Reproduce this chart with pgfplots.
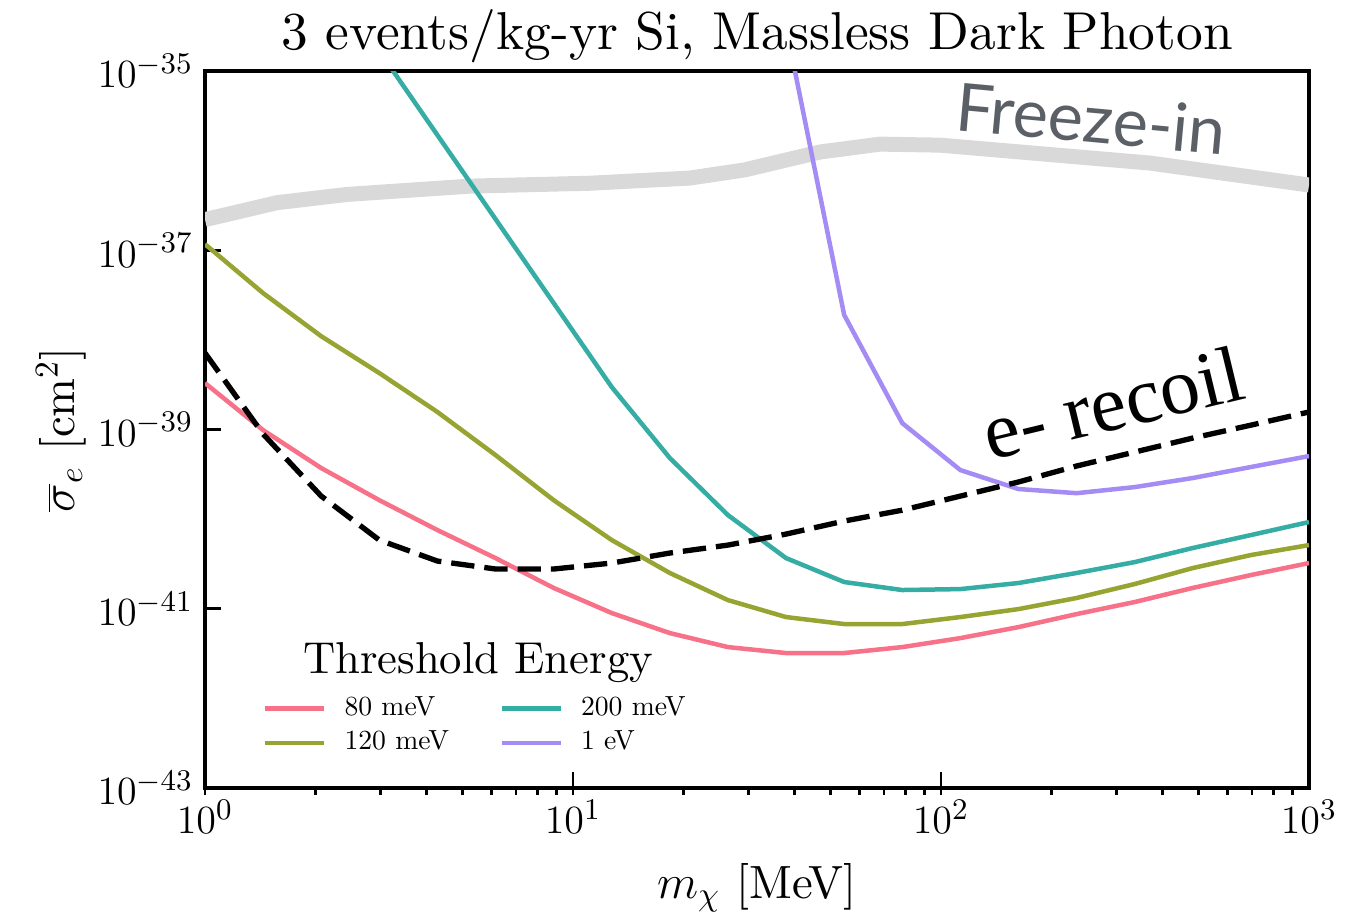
\documentclass[border=0pt]{standalone}
\usepackage{pgfplots}
\pgfplotsset{compat=1.18}
\usepackage{fontspec}
\setmainfont{lmroman10-regular}[Extension=.otf, BoldFont=lmroman10-bold, ItalicFont=lmroman10-italic]
\newfontfamily\timesfont{Liberation Serif}
\newfontfamily\freezefont{Lato}
\definecolor{cpink}{HTML}{F77189}
\definecolor{colive}{HTML}{97A431}
\definecolor{cteal}{HTML}{36ADA4}
\definecolor{cpurple}{HTML}{A48CF4}
\definecolor{cband}{HTML}{D9D9D9}
\definecolor{cfreeze}{HTML}{5A6066}
\begin{document}
\begin{tikzpicture}
\begin{axis}[
  scale only axis, width=331.2pt, height=215.1pt,
  xmode=log, ymode=log,
  xmin=1, xmax=1000, ymin=1e-43, ymax=1e-35,
  xtick={1,10,100,1000},
  ytick={1e-43,1e-41,1e-39,1e-37,1e-35},
  yminorticks=false,
  xtick pos=left, ytick pos=left,
  tick align=inside,
  major tick length=4.8pt,
  minor tick length=2.1pt,
  minor x tick style={yshift=-2.1pt},
  tick style={black, line width=0.8pt},
  axis line style={line width=1pt},
  tick label style={font=\fontsize{12.5}{14}\selectfont},
  xlabel={$m_\chi$ [MeV]},
  xlabel style={font=\fontsize{14}{16}\selectfont, at={(axis description cs:0.5,0)}, anchor=base, yshift=-33pt},
  ylabel={$\overline{\sigma}_e$ [cm$^2$]},
  ylabel style={font=\fontsize{14}{16}\selectfont, at={(axis description cs:-0.1178,0.5)}, anchor=base},
  legend columns=2,
  legend cell align=left,
  legend style={draw=none, fill=none, font=\fontsize{8.3}{10}\selectfont,
    at={(axis description cs:0.052,0.087)}, anchor=west, inner sep=0pt,
    nodes={inner sep=1.5pt}, row sep=0.1pt, column sep=0pt},
  legend image code/.code={\draw[#1] (0pt,0pt) -- (17.7pt,0pt);},
]
% Freeze-in band
\addplot[cband, line width=4.5pt, line join=round, forget plot] coordinates {
(1,2.2e-37) (1.57,3.4e-37) (2.43,4.2e-37) (5.25,5.2e-37) (11.1,5.6e-37)
(20.8,6.4e-37) (29.3,7.9e-37) (46.9,1.25e-36) (68.3,1.53e-36) (99.4,1.49e-36)
(370,9.4e-37) (1000,5.35e-37)};
% 80 meV
\addplot[cpink, line width=1.35pt] coordinates {
(1,3.30e-39) (1.4384,9.86e-40) (2.0691,3.72e-40) (2.9764,1.63e-40) (4.2813,7.56e-41)
(6.1585,3.68e-41) (8.8587,1.71e-41) (12.743,8.97e-42) (18.330,5.36e-42) (26.367,3.74e-42)
(37.927,3.21e-42) (54.556,3.21e-42) (78.476,3.74e-42) (112.88,4.71e-42) (162.38,6.25e-42)
(233.57,8.73e-42) (335.98,1.19e-41) (483.29,1.71e-41) (695.19,2.38e-41) (1000,3.24e-41)};
\addlegendentry{\makebox[48.9pt][l]{\hspace{3.9pt}80 meV}}
% 200 meV
\addplot[cteal, line width=1.35pt] coordinates {
(2.9764,1.67e-35) (4.2813,1.93e-36) (6.1585,2.23e-37) (8.8587,2.58e-38) (12.743,2.98e-39)
(18.330,4.81e-40) (26.367,1.11e-40) (37.927,3.68e-41) (54.556,1.99e-41) (78.476,1.62e-41)
(112.88,1.66e-41) (162.38,1.94e-41) (233.57,2.51e-41) (335.98,3.32e-41) (483.29,4.77e-41)
(695.19,6.65e-41) (1000,9.29e-41)};
\addlegendentry{\hspace{3.9pt}200 meV}
% 120 meV
\addplot[colive, line width=1.35pt] coordinates {
(1,1.17e-37) (1.4384,3.33e-38) (2.0691,1.10e-38) (2.9764,4.27e-39) (4.2813,1.57e-39)
(6.1585,5.19e-40) (8.8587,1.63e-40) (12.743,5.85e-41) (18.330,2.51e-41) (26.367,1.25e-41)
(37.927,8.09e-42) (54.556,6.76e-42) (78.476,6.76e-42) (112.88,8.09e-42) (162.38,9.93e-42)
(233.57,1.32e-41) (335.98,1.89e-41) (483.29,2.85e-41) (695.19,3.98e-41) (1000,5.14e-41)};
\addlegendentry{\makebox[48.9pt][l]{\hspace{3.9pt}120 meV}}
% 1 eV
\addplot[cpurple, line width=1.35pt] coordinates {
(37.927,3.1e-35) (54.556,1.90e-38) (78.476,1.18e-39) (112.88,3.53e-40) (162.38,2.17e-40)
(233.57,1.95e-40) (335.98,2.28e-40) (483.29,2.88e-40) (695.19,3.82e-40) (1000,5.06e-40)};
\addlegendentry{\hspace{3.9pt}1 eV}
% e- recoil
\addplot[black, line width=1.6pt, dash pattern=on 7pt off 3pt, forget plot] coordinates {
(1,7.15e-39) (1.4384,8.91e-40) (2.0691,1.81e-40) (2.9764,5.85e-41) (4.2813,3.41e-41)
(6.1585,2.78e-41) (8.8587,2.78e-41) (12.743,3.24e-41) (18.330,4.19e-41) (26.367,5.14e-41)
(37.927,6.82e-41) (54.556,9.53e-41) (78.476,1.26e-40) (112.88,1.81e-40) (162.38,2.60e-40)
(233.57,3.92e-40) (335.98,5.61e-40) (483.29,8.04e-40) (695.19,1.12e-39) (1000,1.57e-39)};
\node[font=\timesfont\fontsize{24}{28}\selectfont, rotate=13.6, anchor=base] at (axis cs:305,1.01e-39) {e- recoil};
\node[font=\freezefont\fontsize{20}{24}\selectfont, text=cfreeze, rotate=-5.3, anchor=base] at (axis cs:252.5,1.59e-36) {Freeze-in};
\node[font=\fontsize{13.4}{16}\selectfont, anchor=base] at (axis description cs:0.2473,0.1604) {Threshold Energy};
\end{axis}
\node[font=\fontsize{16}{19}\selectfont, anchor=base] at ([yshift=6.3pt]current axis.north) {3 events/kg-yr Si, Massless Dark Photon};
\pgfresetboundingbox
\path[use as bounding box] ([xshift=-61.5pt,yshift=-36.9pt]current axis.south west) rectangle ([xshift=13.2pt,yshift=21.3pt]current axis.north east);
\end{tikzpicture}
\end{document}
